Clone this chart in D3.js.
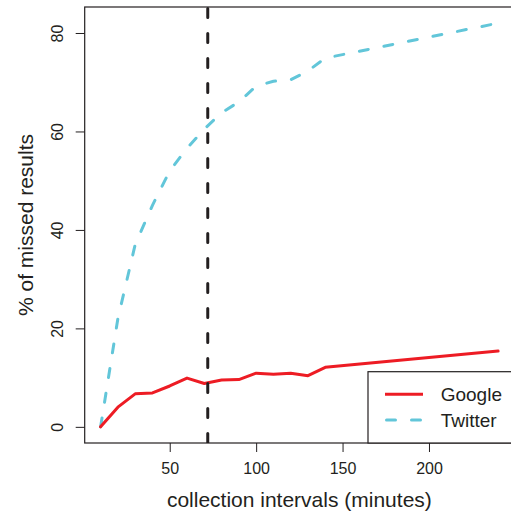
<!DOCTYPE html>
<html>
<head>
<meta charset="utf-8">
<script src="https://cdn.jsdelivr.net/npm/d3@7"></script>
<style>
  body { margin: 0; background: #fff; }
  svg { display: block; font-family: "Liberation Sans", Arial, Helvetica, sans-serif; }
</style>
</head>
<body>
<svg id="chart" width="511" height="514"></svg>
<script>
// collection intervals (minutes) and % of missed results per source
const intervals = [10, 20, 30, 40, 50, 60, 70, 80, 90, 100, 110, 120, 130, 140, 240];
const google = [0, 4.0, 6.7, 6.9, 8.3, 9.9, 8.8, 9.5, 9.6, 10.9, 10.7, 10.9, 10.4, 12.1, 15.4];
const twitter = [0, 22, 37, 45, 52, 56.6, 60.5, 63.8, 66, 69.2, 70.2, 70.5, 72.3, 74.9, 82];
const xTicks = [50, 100, 150, 200];
const yTicks = [0, 20, 40, 60, 80];
const cutoff = 72;
const seriesNames = ["Google", "Twitter"];

const red = "#ED1C24", cyan = "#62C6D9", ink = "#231F20";

let svg = d3.select("#chart");

// plot region (R style, 4% padding on both axes)
let plotLeft = 84.7, plotRight = 514, plotTop = 7, plotBottom = 443;
let x = d3.scaleLinear().domain([0.8, 249.2]).range([plotLeft, plotRight]);
let y = d3.scaleLinear().domain([-3.28, 85.28]).range([plotBottom, plotTop]);

svg.append("defs").append("clipPath").attr("id", "plotClip")
    .append("rect")
    .attr("x", plotLeft).attr("y", plotTop)
    .attr("width", plotRight - plotLeft).attr("height", plotBottom - plotTop);

// x axis ticks + labels
let xAxis = svg.append("g")
    .attr("transform", `translate(0,${plotBottom})`)
    .call(d3.axisBottom(x).tickValues(xTicks).tickSize(9).tickPadding(10.6).tickFormat(d3.format("d")));
xAxis.select(".domain").remove();
xAxis.selectAll("line").attr("stroke", ink);
xAxis.selectAll("text").attr("fill", ink).style("font-size", "16px");
xAxis.attr("font-family", null).attr("font-size", null);

// y axis, labels rotated like R's default
let yAxis = svg.append("g")
    .attr("transform", `translate(${plotLeft},0)`)
    .call(d3.axisLeft(y).tickValues(yTicks).tickSize(9).tickFormat(d3.format("d")));
yAxis.select(".domain").remove();
yAxis.attr("font-family", null).attr("font-size", null);
yAxis.selectAll("line").attr("stroke", ink);
yAxis.selectAll("text")
    .attr("transform", "rotate(-90)")
    .attr("x", 0)
    .attr("y", -21.7)
    .attr("dy", null)
    .attr("text-anchor", "middle")
    .attr("fill", ink)
    .style("font-size", "16px");

// axis titles
svg.append("text")
    .attr("x", (plotLeft + plotRight) / 2)
    .attr("y", 507)
    .attr("text-anchor", "middle")
    .attr("fill", ink)
    .style("font-size", "21px")
    .text("collection intervals (minutes)");

svg.append("text")
    .attr("transform", `translate(33,${(plotTop + plotBottom) / 2}) rotate(-90)`)
    .attr("text-anchor", "middle")
    .attr("fill", ink)
    .style("font-size", "21px")
    .text("% of missed results");

let plot = svg.append("g").attr("clip-path", "url(#plotClip)");

let line = d3.line()
    .x(d => x(d[0]))
    .y(d => y(d[1]));

plot.append("path")
    .datum(intervals.map((d, i) => [d, twitter[i]]))
    .attr("d", line)
    .attr("fill", "none")
    .attr("stroke", cyan)
    .attr("stroke-width", 3)
    .attr("stroke-linecap", "round")
    .attr("stroke-linejoin", "round")
    .attr("stroke-dasharray", "9,16");

plot.append("path")
    .datum(intervals.map((d, i) => [d, google[i]]))
    .attr("d", line)
    .attr("fill", "none")
    .attr("stroke", red)
    .attr("stroke-width", 3)
    .attr("stroke-linecap", "round")
    .attr("stroke-linejoin", "round");

// vertical cutoff line
plot.append("line")
    .attr("x1", x(cutoff)).attr("x2", x(cutoff))
    .attr("y1", plotTop + 1.5).attr("y2", plotBottom + 20)
    .attr("stroke", ink)
    .attr("stroke-width", 3)
    .attr("stroke-linecap", "round")
    .attr("stroke-dasharray", "9,16");

// box around the plot
svg.append("rect")
    .attr("x", plotLeft).attr("y", plotTop)
    .attr("width", plotRight - plotLeft).attr("height", plotBottom - plotTop)
    .attr("fill", "none")
    .attr("stroke", ink)
    .attr("stroke-width", 1.2);

// legend in bottom right corner
let legend = svg.append("g");
legend.append("rect")
    .attr("x", 368).attr("y", 371.7)
    .attr("width", plotRight - 368).attr("height", plotBottom - 371.7)
    .attr("fill", "#fff")
    .attr("stroke", ink)
    .attr("stroke-width", 1.2);

let items = legend.selectAll("g.item")
    .data(seriesNames)
    .enter().append("g")
    .attr("class", "item")
    .attr("transform", (d, i) => `translate(0,${394.3 + i * 25.7})`);

items.append("line")
    .attr("x1", (d, i) => i === 0 ? 385 : 386.5)
    .attr("x2", 423)
    .attr("stroke", (d, i) => i === 0 ? red : cyan)
    .attr("stroke-width", 3)
    .attr("stroke-linecap", (d, i) => i === 0 ? "butt" : "round")
    .attr("stroke-dasharray", (d, i) => i === 0 ? null : "9,16");

items.append("text")
    .attr("x", 440.7)
    .attr("y", 7)
    .attr("fill", ink)
    .style("font-size", "19px")
    .text(d => d);
</script>
</body>
</html>
